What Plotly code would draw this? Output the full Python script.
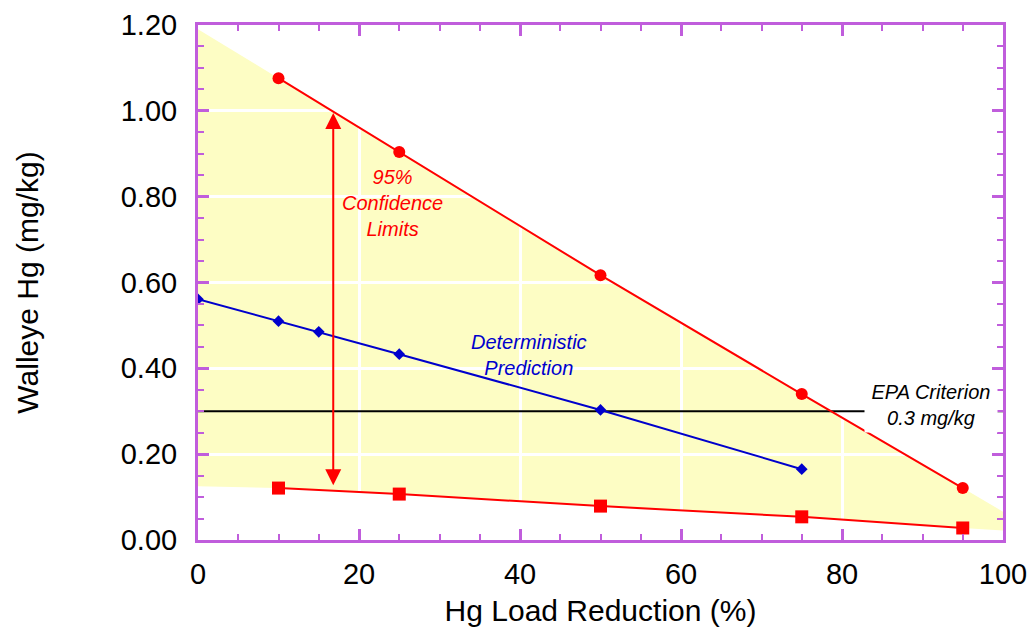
import plotly.graph_objects as go

# Hg load reduction scenarios (%)
upper_x = [10, 25, 50, 75, 95]
upper_y = [1.076, 0.904, 0.617, 0.340, 0.121]   # upper 95% confidence limit
lower_x = [10, 25, 50, 75, 95]
lower_y = [0.121, 0.107, 0.079, 0.054, 0.028]   # lower 95% confidence limit
det_x = [0, 10, 15, 25, 50, 75]
det_y = [0.561, 0.510, 0.485, 0.433, 0.303, 0.165]  # deterministic prediction

# confidence band extended to the axis limits
band_upper_x = [0, 10, 25, 50, 75, 95, 100]
band_upper_y = [1.19, 1.076, 0.904, 0.617, 0.340, 0.121, 0.066]
band_lower_x = [0, 10, 25, 50, 75, 95, 100]
band_lower_y = [0.125, 0.121, 0.107, 0.079, 0.054, 0.028, 0.022]

epa_criterion = 0.3
arrow_x = 16.8
arrow_top = 0.995
arrow_bottom = 0.124

x_ticks = [0, 20, 40, 60, 80, 100]
y_ticks = [0.0, 0.2, 0.4, 0.6, 0.8, 1.0, 1.2]
y_ticklabels = ["0.00", "0.20", "0.40", "0.60", "0.80", "1.00", "1.20"]

FONT = "Liberation Sans, Arial, Helvetica, sans-serif"
PURPLE = "#c05ddc"
RED = "#ff0000"
BLUE = "#0000cc"
YELLOW = "#fdfdc4"

# polygon path for the shaded band
pts = list(zip(band_upper_x, band_upper_y)) + list(zip(band_lower_x[::-1], band_lower_y[::-1]))
path = "M " + " L ".join(f"{x},{y}" for x, y in pts) + " Z"

fig = go.Figure()

fig.add_shape(type="path", path=path, xref="x", yref="y",
              fillcolor=YELLOW, line=dict(width=0), layer="below")

fig.add_trace(go.Scatter(x=[0, 100], y=[epa_criterion, epa_criterion], mode="lines",
                         line=dict(color="black", width=2), hoverinfo="skip"))
fig.add_trace(go.Scatter(x=upper_x, y=upper_y, mode="lines+markers",
                         line=dict(color=RED, width=2),
                         marker=dict(symbol="circle", size=12, color=RED)))
fig.add_trace(go.Scatter(x=lower_x, y=lower_y, mode="lines+markers",
                         line=dict(color=RED, width=2),
                         marker=dict(symbol="square", size=13, color=RED)))
fig.add_trace(go.Scatter(x=det_x, y=det_y, mode="lines+markers",
                         line=dict(color=BLUE, width=2),
                         marker=dict(symbol="diamond", size=9, color=BLUE)))

# double-headed arrow spanning the confidence limits
fig.add_annotation(x=arrow_x, y=arrow_top, ax=arrow_x, ay=arrow_bottom,
                   xref="x", yref="y", axref="x", ayref="y", text="",
                   showarrow=True, arrowhead=2, arrowsize=1.6, arrowwidth=2,
                   arrowcolor=RED, arrowside="end+start")

fig.add_annotation(x=24.2, y=0.785, xref="x", yref="y", showarrow=False,
                   text="<i>95%<br>Confidence<br>Limits</i>",
                   font=dict(family=FONT, size=20, color=RED))
fig.add_annotation(x=41.1, y=0.431, xref="x", yref="y", showarrow=False,
                   text="<i>Deterministic<br>Prediction</i>",
                   font=dict(family=FONT, size=20, color=BLUE))
fig.add_annotation(x=91.0, y=0.314, xref="x", yref="y", showarrow=False,
                   text="<i>EPA Criterion<br>0.3 mg/kg</i>",
                   font=dict(family=FONT, size=20, color="black"),
                   bgcolor="white", borderpad=3, width=126)

axis_common = dict(
    showline=True, linecolor=PURPLE, linewidth=3, mirror="ticks",
    ticks="inside", ticklen=11, tickwidth=3, tickcolor=PURPLE,
    showgrid=True, gridcolor="white", gridwidth=3, automargin=False,
    zeroline=False, tickfont=dict(family=FONT, size=29, color="black"),
)

fig.update_xaxes(**axis_common, range=[0, 100], tickvals=x_ticks,
                 ticklabelstandoff=6,
                 minor=dict(dtick=5, ticks="inside", ticklen=6, tickwidth=2,
                            tickcolor=PURPLE, showgrid=False),
                 title=dict(text="Hg Load Reduction (%)",
                            font=dict(family=FONT, size=30, color="black"), standoff=12))
fig.update_yaxes(**axis_common, range=[0, 1.2], tickvals=y_ticks, ticktext=y_ticklabels,
                 ticklabelstandoff=12,
                 minor=dict(dtick=0.05, ticks="inside", ticklen=6, tickwidth=2,
                            tickcolor=PURPLE, showgrid=False),
                 title=dict(text="Walleye Hg (mg/kg)",
                            font=dict(family=FONT, size=30, color="black"), standoff=74))

fig.update_layout(
    width=1032, height=629,
    margin=dict(l=198, r=29, t=25, b=89),
    plot_bgcolor="white", paper_bgcolor="white",
    showlegend=False,
)

fig.write_html("out.html")
